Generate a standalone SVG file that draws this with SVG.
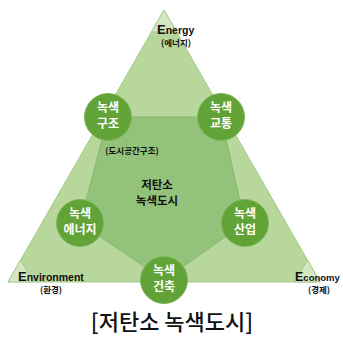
<svg xmlns="http://www.w3.org/2000/svg" width="343" height="339" viewBox="0 0 343 339">
<style>
.tri{fill:#b8d79c;stroke:#a6cb86;stroke-width:1}
.pent{fill:#93c27a;stroke:#86b86c;stroke-width:1}
.small{fill:#d6e8c3;stroke:#a8cc8a;stroke-width:1}
.node circle{fill:#61a337;stroke:#7db75a;stroke-width:1}
.node text{fill:#fff;font-family:"Noto Sans CJK KR",sans-serif;font-weight:700;font-size:12px;text-anchor:middle}
.lbl{font-family:"Liberation Sans","Noto Sans CJK KR",sans-serif;font-weight:700;fill:#111}
.kr{font-family:"Noto Sans CJK KR",sans-serif;font-weight:700;fill:#111}
</style>
<rect width="343" height="339" fill="#fff"/>
<g id="background">
<polygon class="tri" points="164,10 8,282 320,282"/>
<polygon class="small" points="164,10 151.5,32 176.5,32"/>
<polygon class="small" points="8,282 33,282 20.5,260"/>
<polygon class="small" points="320,282 295,282 307.5,260"/>
<polygon class="pent" points="108,117 221,117 245,223 164,280 80,223"/>
</g>
<g id="labels">
<text class="lbl" x="157" y="34" font-size="10.5"><tspan font-size="13">E</tspan>nergy</text>
<text class="kr" x="176" y="46" font-size="8.5" text-anchor="middle">(에너지)</text>
<text class="lbl" x="18" y="281" font-size="10.5"><tspan font-size="13">E</tspan>nvironment</text>
<text class="kr" x="51" y="293" font-size="8.5" text-anchor="middle">(환경)</text>
<text class="lbl" x="295" y="281" font-size="9.5"><tspan font-size="12.5">E</tspan>conomy</text>
<text class="kr" x="319" y="293" font-size="8.5" text-anchor="middle">(경제)</text>
<text class="kr" x="132" y="154" font-size="8.5" text-anchor="middle">(도시공간구조)</text>
<text class="kr" x="157" y="189" font-size="11.5" text-anchor="middle">저탄소</text>
<text class="kr" x="157" y="205" font-size="11.5" text-anchor="middle">녹색도시</text>
<text x="172" y="330" font-family="Noto Sans CJK KR,sans-serif" font-size="22" font-weight="500" fill="#111" text-anchor="middle">[저탄소 녹색도시]</text>
</g>
<g id="connectors"></g>
<g id="n1" class="node"><circle cx="108" cy="117" r="23.5"/><text x="108" y="112">녹색</text><text x="108" y="128">구조</text></g>
<g id="n2" class="node"><circle cx="221" cy="117" r="23.5"/><text x="221" y="112">녹색</text><text x="221" y="128">교통</text></g>
<g id="n3" class="node"><circle cx="80" cy="223" r="23.5"/><text x="80" y="218">녹색</text><text x="80" y="234">에너지</text></g>
<g id="n4" class="node"><circle cx="245" cy="223" r="23.5"/><text x="245" y="218">녹색</text><text x="245" y="234">산업</text></g>
<g id="n5" class="node"><circle cx="164" cy="280" r="23.5"/><text x="164" y="275">녹색</text><text x="164" y="291">건축</text></g>
</svg>
